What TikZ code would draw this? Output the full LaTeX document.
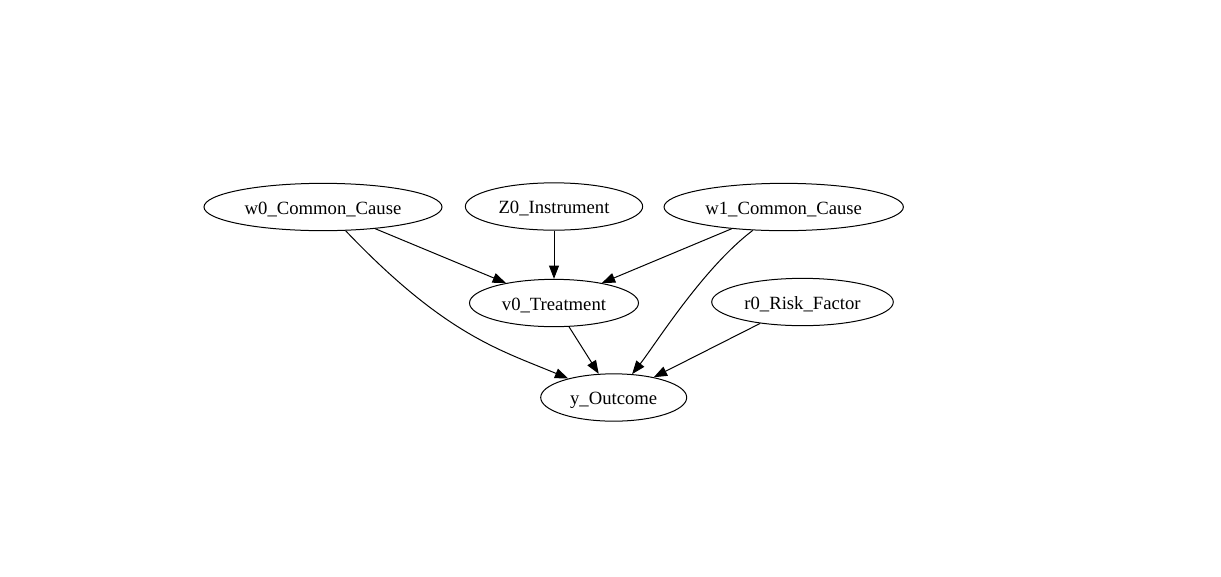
\documentclass[tikz,border=0pt]{standalone}
\usepackage{fontspec}
\setmainfont{Liberation Serif}
\usetikzlibrary{shapes.geometric,arrows.meta}
\begin{document}
\begin{tikzpicture}[x=0.75pt,y=-0.75pt,line width=0.75pt,
  var/.style={ellipse,draw,inner sep=0,minimum height=35.5pt,text height=10.5pt,text depth=0pt,font=\fontsize{14}{16}\selectfont},
  edge/.style={-{Triangle[length=10pt,width=7.5pt]}}]
\useasboundingbox (0,0) rectangle (1221,576);
\node (w0) [var,minimum width=178.5pt] at (323,207) {w0\_Common\_Cause};
\node (z0) [var,minimum width=133pt] at (554,206.5) {Z0\_Instrument};
\node (w1) [var,minimum width=179.5pt] at (783.7,207) {w1\_Common\_Cause};
\node (v0) [var,minimum width=126.75pt] at (554,303) {v0\_Treatment};
\node (r0) [var,minimum width=136.2pt] at (802.5,302) {r0\_Risk\_Factor};
\node (yo) [var,minimum width=109.5pt] at (613.7,397.5) {y\_Outcome};

\draw [edge] (w0) -- (v0);
\draw [edge] (z0) -- (v0);
\draw [edge] (w1) -- (v0);
\draw [edge] (w0) .. controls (445,335) and (500,350) .. (yo);
\draw [edge] (v0) -- (yo);
\draw [edge] (w1) .. controls (703,268) and (655,345) .. (yo);
\draw [edge] (r0) -- (yo);
\end{tikzpicture}
\end{document}
